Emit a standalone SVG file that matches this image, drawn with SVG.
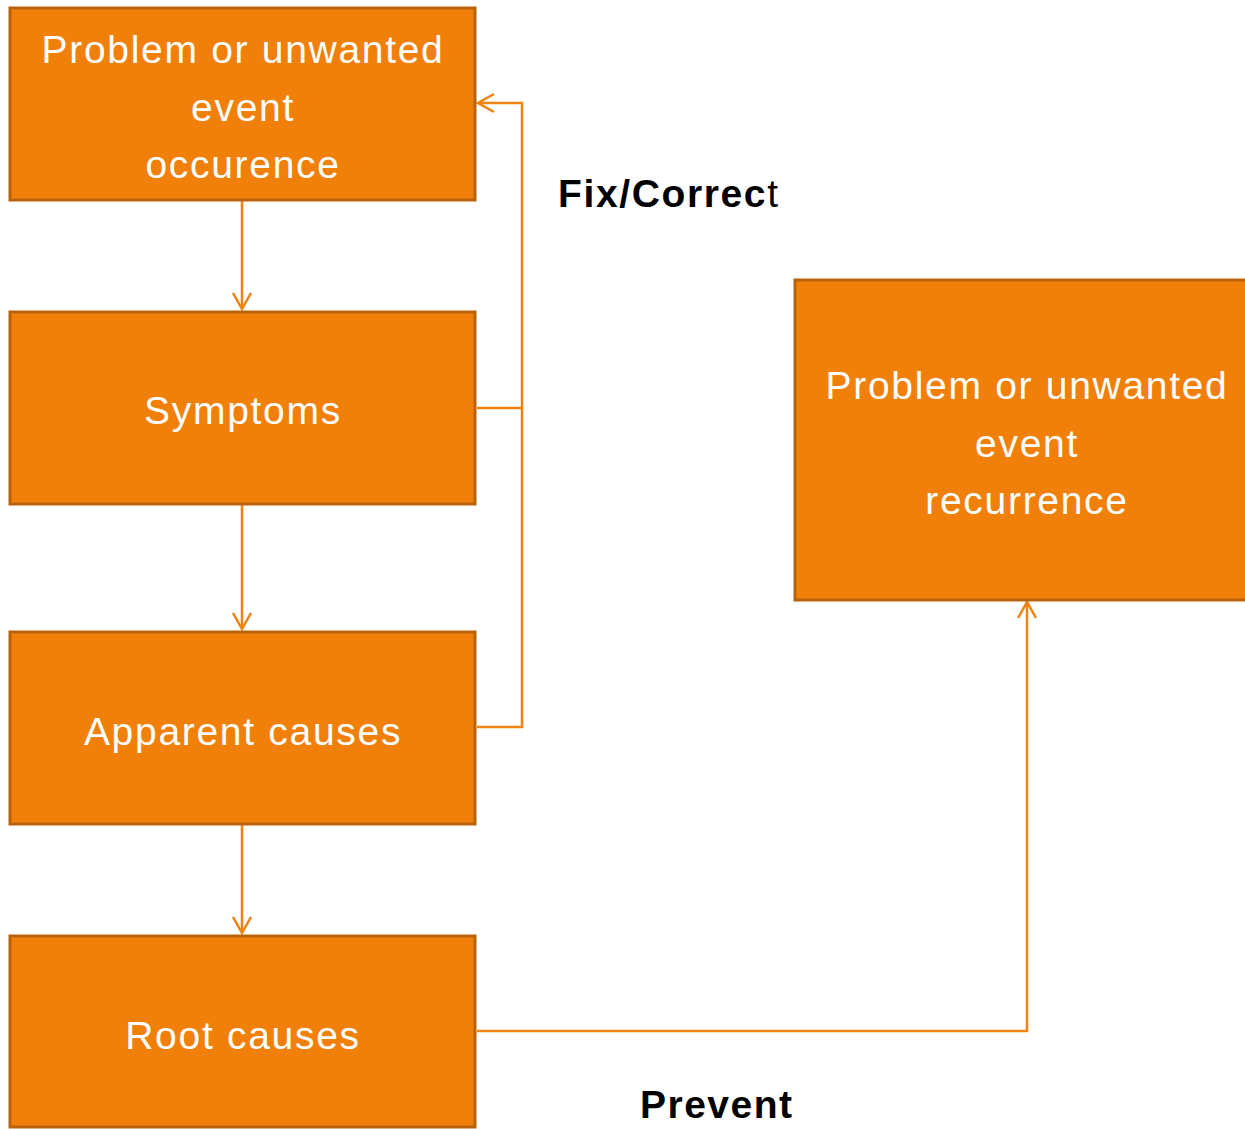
<svg xmlns="http://www.w3.org/2000/svg" width="1245" height="1129" viewBox="0 0 1245 1129">
<style>
.box{fill:#f0800a;stroke:#b8620c;stroke-width:3}
.t{fill:#ffffff;font-family:"Liberation Sans",Arial,sans-serif;font-size:39px;text-anchor:middle;letter-spacing:1.7px}
.c{fill:none;stroke:#f0820f;stroke-width:2.5}
.lbl{fill:#000000;font-family:"Liberation Sans",Arial,sans-serif;font-size:39px;font-weight:bold}
</style>
<defs>
<marker id="arr" markerUnits="userSpaceOnUse" markerWidth="24" markerHeight="24" refX="20" refY="12" orient="auto" viewBox="0 0 24 24">
<path d="M4,3 L20,12 L4,21" fill="none" stroke="#f0820f" stroke-width="2.5"/>
</marker>
</defs>
<rect width="1245" height="1129" fill="#ffffff"/>
<g id="connectors">
<path class="c" d="M242,201 L242,309" marker-end="url(#arr)"/>
<path class="c" d="M242,505 L242,629" marker-end="url(#arr)"/>
<path class="c" d="M242,825 L242,933" marker-end="url(#arr)"/>
<path class="c" d="M477,408 L522,408"/>
<path class="c" d="M477,727 L522,727 L522,103 L478,103" marker-end="url(#arr)"/>
<path class="c" d="M477,1031 L1027,1031 L1027,602" marker-end="url(#arr)"/>
</g>
<g id="n1">
<rect class="box" x="10" y="8" width="465" height="192"/>
<text class="t" x="243" y="63">Problem or unwanted</text>
<text class="t" x="243" y="121">event</text>
<text class="t" x="243" y="178">occurence</text>
</g>
<g id="n2">
<rect class="box" x="10" y="312" width="465" height="192"/>
<text class="t" x="243" y="424">Symptoms</text>
</g>
<g id="n3">
<rect class="box" x="10" y="632" width="465" height="192"/>
<text class="t" x="243" y="745">Apparent causes</text>
</g>
<g id="n4">
<rect class="box" x="10" y="936" width="465" height="191"/>
<text class="t" x="243" y="1049">Root causes</text>
</g>
<g id="n5">
<rect class="box" x="795" y="280" width="455" height="320"/>
<text class="t" x="1027" y="399">Problem or unwanted</text>
<text class="t" x="1027" y="457">event</text>
<text class="t" x="1027" y="514">recurrence</text>
</g>
<g id="labels">
<text class="lbl" x="558" y="207" textLength="220" lengthAdjust="spacing">Fix/Correc<tspan font-weight="normal">t</tspan></text>
<text class="lbl" x="640" y="1118" textLength="152" lengthAdjust="spacing">Prevent</text>
</g>
</svg>
